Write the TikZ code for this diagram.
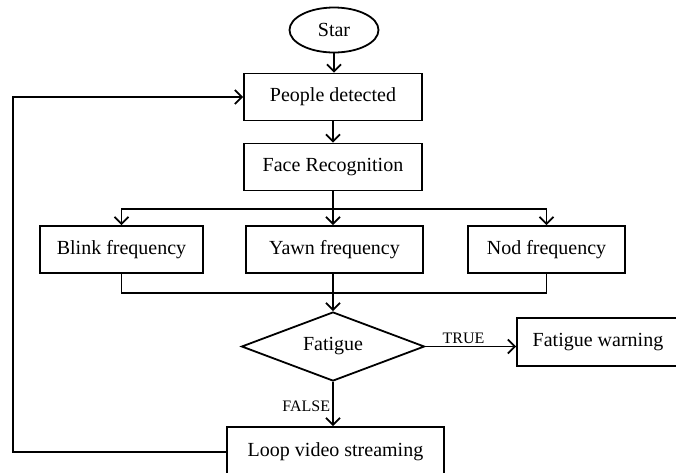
\documentclass[tikz,border=0pt]{standalone}
\usepackage{fontspec}
\setmainfont{Liberation Serif}
\usetikzlibrary{shapes.geometric,arrows.meta}

\tikzstyle{block} = [draw, rectangle, minimum height=47pt, inner sep=0pt, font=\fontsize{20}{23}\selectfont]
\tikzstyle{term} = [draw, ellipse, minimum width=89pt, minimum height=45pt, inner sep=0pt, font=\fontsize{20}{23}\selectfont]
\tikzstyle{decide} = [draw, diamond, shape aspect=2.6, minimum width=183pt, minimum height=69pt, inner sep=0pt, font=\fontsize{20}{23}\selectfont]
\tikzstyle{flow} = [-{Straight Barb[length=7pt,width=14pt]}]
\tikzstyle{tag} = [font=\fontsize{16}{18}\selectfont, inner sep=2pt]

\begin{document}
\begin{tikzpicture}[x=1pt, y=1pt, line width=1.8pt]
\useasboundingbox (0,0) rectangle (676,-472);

\node[term] (start) at (334,-30) {Star};
\node[block, minimum width=178pt] (people) at (333,-97) {People detected};
\node[block, minimum width=178pt] (face) at (333,-167) {Face Recognition};
\node[block, minimum width=163pt] (blink) at (121.5,-249.5) {Blink frequency};
\node[block, minimum width=177pt] (yawn) at (334.5,-249.5) {Yawn frequency};
\node[block, minimum width=157pt] (nod) at (546.5,-249.5) {Nod frequency};
\node[decide] (fat) at (333,-346.5) {Fatigue};
\node[block, minimum width=162pt, minimum height=48pt] (warn) at (598,-342) {Fatigue warning};
\node[block, minimum width=217pt, minimum height=50pt] (loop) at (335.5,-452) {Loop video streaming};

\coordinate (split) at (333,-209);
\coordinate (merge) at (333,-293);
\coordinate (back) at (13,-97);

% main line
\draw[flow] (start) -- (start |- people.north);
\draw[flow] (people) -- (face);
\draw (face.south) -- (split);
\draw[flow] (split) -| (blink.north);
\draw[flow] (split) -| (nod.north);
\draw[flow] (split) -- (split |- yawn.north);
\draw (blink.south) |- (merge) -| (nod.south);
\draw (yawn.south -| merge) -- (merge);
\draw[flow] (merge) -- (fat.north);

% decision
\draw[flow] (fat.east) -- node[tag, above, pos=0.42] {TRUE} (fat.east -| warn.west);
\draw[flow] (fat.south) -- node[tag, left, pos=0.55] {FALSE} (fat.south |- loop.north);
\draw[flow] (loop.west) -| (back) -- (people.west);

\end{tikzpicture}
\end{document}
